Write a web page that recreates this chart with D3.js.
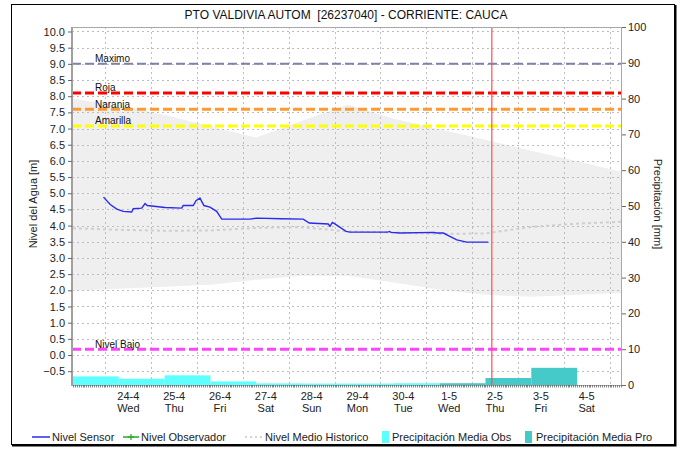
<!DOCTYPE html>
<html>
<head>
<meta charset="utf-8">
<script src="https://cdn.jsdelivr.net/npm/d3@7"></script>
<style>
  html, body { margin: 0; padding: 0; background: #fff; }
  svg { display: block; font-family: "Liberation Sans", Arial, sans-serif; }
</style>
</head>
<body>
<svg id="chart" width="684" height="449"></svg>
<script>
const parse = d3.timeParse("%Y-%m-%d %H:%M");

// Nivel Sensor (m)
const sensorTime = [
  "2024-04-23 23:00", "2024-04-24 02:30", "2024-04-24 06:00", "2024-04-24 09:20",
  "2024-04-24 13:45", "2024-04-24 14:35", "2024-04-24 19:00", "2024-04-24 20:45",
  "2024-04-24 21:55", "2024-04-25 07:15", "2024-04-25 15:55", "2024-04-25 16:45",
  "2024-04-25 22:00", "2024-04-25 23:25", "2024-04-26 01:30", "2024-04-26 03:35",
  "2024-04-26 06:45", "2024-04-26 10:15", "2024-04-26 12:55", "2024-04-27 03:40",
  "2024-04-27 07:10", "2024-04-27 20:00", "2024-04-28 07:35", "2024-04-28 10:45",
  "2024-04-28 20:40", "2024-04-28 21:35", "2024-04-28 22:50", "2024-04-28 23:45",
  "2024-04-29 06:00", "2024-04-29 08:00", "2024-04-30 03:50", "2024-04-30 04:45",
  "2024-04-30 05:30", "2024-04-30 10:20", "2024-05-01 04:00", "2024-05-01 05:30",
  "2024-05-01 09:00", "2024-05-01 11:35", "2024-05-01 16:00", "2024-05-01 21:10",
  "2024-05-02 08:30"
];
const sensorLevel = [
  4.88, 4.65, 4.51, 4.44,
  4.42, 4.52, 4.54, 4.68,
  4.62, 4.56, 4.54, 4.62,
  4.62, 4.77, 4.85, 4.62,
  4.57, 4.44, 4.20, 4.20,
  4.23, 4.21, 4.20, 4.08,
  4.05, 3.98, 4.10, 4.07,
  3.82, 3.80, 3.80, 3.82,
  3.79, 3.77, 3.79, 3.77,
  3.77, 3.69, 3.56, 3.49,
  3.49
];

// Nivel Observador (m): no readings in this period
const observerTime = [];
const observerLevel = [];

// Historical statistics, daily at 07:00
const historyTime = [
  "2024-04-23 07:00", "2024-04-24 07:00", "2024-04-25 07:00", "2024-04-26 07:00",
  "2024-04-27 07:00", "2024-04-28 07:00", "2024-04-29 07:00", "2024-04-30 07:00",
  "2024-05-01 07:00", "2024-05-02 07:00", "2024-05-03 07:00", "2024-05-04 07:00",
  "2024-05-05 07:00"
];
const historyMean = [3.92, 3.87, 3.84, 3.85, 3.93, 3.95, 3.82, 3.79, 3.74, 3.76, 3.96, 4.06, 4.12];
const historyMax  = [7.92, 7.71, 7.43, 7.06, 6.72, 7.24, 7.74, 7.30, 6.98, 6.65, 6.31, 5.99, 5.65];
const historyMin  = [1.99, 2.05, 2.11, 2.17, 2.33, 2.45, 2.45, 2.24, 2.02, 1.86, 1.80, 1.86, 1.92];

// Daily precipitation (mm), days run 07:00 to 07:00
const rainDay = [
  "2024-04-22 07:00", "2024-04-23 07:00", "2024-04-24 07:00", "2024-04-25 07:00",
  "2024-04-26 07:00", "2024-04-27 07:00", "2024-04-28 07:00", "2024-04-29 07:00",
  "2024-04-30 07:00", "2024-05-01 07:00", "2024-05-02 07:00", "2024-05-03 07:00"
];
const rainObs = [6.1, 2.4, 1.75, 2.7, 1.0, 0.45, 0.4, 0.4, 0.5, null, null, null];
const rainPro = [null, null, null, null, null, null, null, null, null, 0.5, 1.95, 4.8];

// Alert thresholds (m)
const thresholdName  = ["Maximo", "Roja", "Naranja", "Amarilla", "Nivel Bajo"];
const thresholdLevel = [9.0, 8.1, 7.6, 7.08, 0.18];
const thresholdColor = ["#7c82aa", "#ff0000", "#ff9a2e", "#ffff00", "#ff44ff"];
const thresholdWidth = [2, 3, 3, 3, 3];

const levelTicks = [-0.5, 0, 0.5, 1, 1.5, 2, 2.5, 3, 3.5, 4, 4.5, 5, 5.5, 6, 6.5, 7, 7.5, 8, 8.5, 9, 9.5, 10];
const rainTicks = [0, 10, 20, 30, 40, 50, 60, 70, 80, 90, 100];
const nowTime = "2024-05-02 10:20";

const title = "PTO VALDIVIA AUTOM  [26237040] - CORRIENTE: CAUCA";

// ---- layout ----
const W = 684, H = 449;
const P = { left: 72, right: 622, top: 27, bottom: 385 };

const svg = d3.select("#chart");
svg.append("rect").attr("width", W).attr("height", H).attr("fill", "#fff");

// outer frame with a slight drop edge
svg.append("rect").attr("x", 11.5).attr("y", 4.5).attr("width", 663).attr("height", 440)
  .attr("fill", "none").attr("stroke", "#000").attr("stroke-width", 1);
svg.append("path").attr("d", `M675.5,5V445.5H12`).attr("fill", "none")
  .attr("stroke", "#000").attr("stroke-width", 2);

// ---- scales ----
const x = d3.scaleTime()
  .domain([parse("2024-04-23 06:30"), parse("2024-05-05 06:30")])
  .range([P.left, P.right]);
const yL = d3.scaleLinear().domain([-0.927, 10.139]).range([P.bottom, P.top]);
const yR = d3.scaleLinear().domain([0, 100]).range([P.bottom, P.top]);

svg.append("defs").append("clipPath").attr("id", "plotClip")
  .append("rect").attr("x", P.left).attr("y", P.top)
  .attr("width", P.right - P.left).attr("height", P.bottom - P.top);

const plot = svg.append("g").attr("clip-path", "url(#plotClip)");

// historical range band
const hist = historyTime.map((t, i) => ({
  t: parse(t), mean: historyMean[i], max: historyMax[i], min: historyMin[i]
}));
plot.append("path").datum(hist)
  .attr("fill", "#efefef")
  .attr("d", d3.area().x(d => x(d.t)).y0(d => yL(d.min)).y1(d => yL(d.max)));

// grid
const gridColor = "#bdbdbd";
const gridLevels = levelTicks.filter(v => v > -0.9 && v < 10.1);
plot.append("g").selectAll("line").data(gridLevels).join("line")
  .attr("x1", P.left).attr("x2", P.right)
  .attr("y1", d => Math.round(yL(d)) + 0.5).attr("y2", d => Math.round(yL(d)) + 0.5)
  .attr("stroke", gridColor).attr("stroke-dasharray", "2,3");
const midnights = d3.timeDay.range(x.domain()[0], x.domain()[1]).filter(d => d > x.domain()[0]);
plot.append("g").selectAll("line").data(midnights).join("line")
  .attr("x1", d => Math.round(x(d)) + 0.5).attr("x2", d => Math.round(x(d)) + 0.5)
  .attr("y1", P.top).attr("y2", P.bottom)
  .attr("stroke", gridColor).attr("stroke-dasharray", "2,3");

// precipitation bars
const days = rainDay.map((d, i) => ({
  start: parse(d), end: d3.timeDay.offset(parse(d), 1), obs: rainObs[i], pro: rainPro[i]
}));
plot.append("g").selectAll("rect").data(days.filter(d => d.obs != null)).join("rect")
  .attr("x", d => x(d.start)).attr("width", d => x(d.end) - x(d.start))
  .attr("y", d => yR(d.obs)).attr("height", d => yR(0) - yR(d.obs))
  .attr("fill", "#5effff");
plot.append("g").selectAll("rect").data(days.filter(d => d.pro != null)).join("rect")
  .attr("x", d => x(d.start)).attr("width", d => x(d.end) - x(d.start))
  .attr("y", d => yR(d.pro)).attr("height", d => yR(0) - yR(d.pro))
  .attr("fill", "#46c9c9");

// threshold lines
thresholdLevel.forEach((v, i) => {
  plot.append("line")
    .attr("x1", P.left).attr("x2", P.right)
    .attr("y1", yL(v)).attr("y2", yL(v))
    .attr("stroke", thresholdColor[i]).attr("stroke-width", thresholdWidth[i])
    .attr("stroke-dasharray", "9,4");
});

// historical mean
plot.append("path").datum(hist)
  .attr("fill", "none").attr("stroke", "#cfcfcf").attr("stroke-width", 2)
  .attr("stroke-dasharray", "3,3")
  .attr("d", d3.line().x(d => x(d.t)).y(d => yL(d.mean)));

// observer level
const observer = observerTime.map((t, i) => ({ t: parse(t), v: observerLevel[i] }));
plot.append("path").datum(observer)
  .attr("fill", "none").attr("stroke", "#22aa22").attr("stroke-width", 1.5)
  .attr("d", d3.line().x(d => x(d.t)).y(d => yL(d.v)));

// sensor level
const sensor = sensorTime.map((t, i) => ({ t: parse(t), v: sensorLevel[i] }));
plot.append("path").datum(sensor)
  .attr("fill", "none").attr("stroke", "#2a2aee").attr("stroke-width", 1.4)
  .attr("d", d3.line().x(d => x(d.t)).y(d => yL(d.v)));

// current time
plot.append("line")
  .attr("x1", x(parse(nowTime))).attr("x2", x(parse(nowTime)))
  .attr("y1", P.top).attr("y2", P.bottom)
  .attr("stroke", "#ff4d4d").attr("stroke-width", 1.2);

// threshold labels
thresholdLevel.forEach((v, i) => {
  svg.append("text")
    .attr("x", P.left + 23).attr("y", yL(v) - 1.5)
    .attr("font-size", 10).attr("fill", "#111")
    .text(thresholdName[i]);
});

// plot frame
svg.append("rect").attr("x", P.left + 0.5).attr("y", P.top + 0.5)
  .attr("width", P.right - P.left - 1).attr("height", P.bottom - P.top)
  .attr("fill", "none").attr("stroke", "#a8a8a8");
svg.append("line").attr("x1", P.left).attr("x2", P.left).attr("y1", P.top).attr("y2", P.bottom + 1)
  .attr("stroke", "#a0a0a0").attr("stroke-width", 2);

// hourly minor ticks along the time axis
svg.append("g").selectAll("line").data(d3.timeHour.range(x.domain()[0], x.domain()[1])).join("line")
  .attr("x1", d => Math.round(x(d)) + 0.5).attr("x2", d => Math.round(x(d)) + 0.5)
  .attr("y1", P.bottom).attr("y2", P.bottom + 2.5)
  .attr("stroke", "#666").attr("stroke-width", 0.8);

// left axis
const axL = svg.append("g").attr("transform", `translate(${P.left},0)`)
  .call(d3.axisLeft(yL).tickValues(levelTicks).tickFormat(d3.format(".1f")).tickSize(4).tickPadding(3));
axL.select(".domain").remove();
axL.selectAll(".tick line").attr("stroke", "#666");
axL.selectAll("text").attr("font-size", 11).attr("fill", "#222").attr("font-family", "Liberation Sans, Arial, sans-serif");

// right axis
const axR = svg.append("g").attr("transform", `translate(${P.right},0)`)
  .call(d3.axisRight(yR).tickValues(rainTicks).tickSize(4).tickPadding(2));
axR.select(".domain").remove();
axR.selectAll(".tick line").attr("stroke", "#666");
axR.selectAll("text").attr("font-size", 11).attr("fill", "#222").attr("font-family", "Liberation Sans, Arial, sans-serif");

// day labels at noon
const noons = d3.timeDay.range(parse("2024-04-24 00:00"), parse("2024-05-05 00:00"))
  .map(d => d3.timeHour.offset(d, 12));
const fmtDay = d3.timeFormat("%-d-%-m"), fmtWk = d3.timeFormat("%a");
const dayLab = svg.append("g").selectAll("g").data(noons).join("g")
  .attr("transform", d => `translate(${x(d)},0)`);
dayLab.append("text").attr("y", 400).attr("text-anchor", "middle")
  .attr("font-size", 11).attr("fill", "#222").text(fmtDay);
dayLab.append("text").attr("y", 412).attr("text-anchor", "middle")
  .attr("font-size", 11).attr("fill", "#222").text(fmtWk);

// titles
svg.append("text").attr("x", 346).attr("y", 19).attr("text-anchor", "middle")
  .attr("font-size", 12).attr("fill", "#111").style("white-space", "pre").text(title);
svg.append("text").attr("transform", "translate(37,204) rotate(-90)")
  .attr("text-anchor", "middle").attr("font-size", 11).attr("fill", "#222")
  .text("Nivel del Agua [m]");
svg.append("text").attr("transform", "translate(654,204) rotate(90)")
  .attr("text-anchor", "middle").attr("font-size", 11).attr("fill", "#222")
  .text("Precipitación [mm]");

// legend
const LY = 437;
const leg = svg.append("g").attr("font-size", 11).attr("fill", "#222");
leg.append("line").attr("x1", 32).attr("x2", 50).attr("y1", LY).attr("y2", LY)
  .attr("stroke", "#2a2aee").attr("stroke-width", 1.5);
leg.append("text").attr("x", 52).attr("y", LY + 4).text("Nivel Sensor");
leg.append("line").attr("x1", 123).attr("x2", 139).attr("y1", LY).attr("y2", LY)
  .attr("stroke", "#22aa22").attr("stroke-width", 1.5);
leg.append("path").attr("d", `M131,${LY - 3}V${LY + 3}M128,${LY}H134`)
  .attr("stroke", "#22aa22").attr("stroke-width", 1.2);
leg.append("text").attr("x", 141).attr("y", LY + 4).text("Nivel Observador");
leg.append("line").attr("x1", 245).attr("x2", 263).attr("y1", LY).attr("y2", LY)
  .attr("stroke", "#c4c4c4").attr("stroke-width", 1.5).attr("stroke-dasharray", "2,3");
leg.append("text").attr("x", 265).attr("y", LY + 4).text("Nivel Medio Historico");
leg.append("rect").attr("x", 382).attr("y", LY - 6).attr("width", 7).attr("height", 12)
  .attr("fill", "#5effff");
leg.append("text").attr("x", 392).attr("y", LY + 4).text("Precipitación Media Obs");
leg.append("rect").attr("x", 525).attr("y", LY - 6).attr("width", 7).attr("height", 12)
  .attr("fill", "#46c9c9");
leg.append("text").attr("x", 536).attr("y", LY + 4).text("Precipitación Media Pro");
</script>
</body>
</html>
